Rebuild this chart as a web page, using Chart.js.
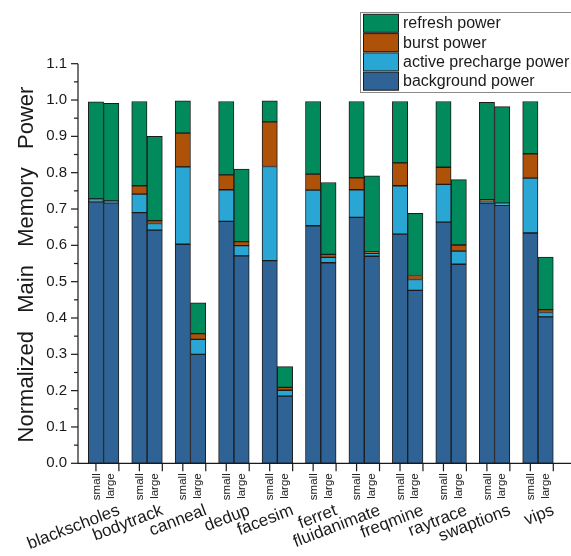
<!DOCTYPE html>
<html>
<head>
<meta charset="utf-8">
<script src="https://cdn.jsdelivr.net/npm/chart.js@4/dist/chart.umd.min.js"></script>
<style>
  html, body { margin: 0; padding: 0; background: #ffffff; }
  #wrap { width: 571px; height: 556px; }
</style>
</head>
<body>
<div id="wrap"><canvas id="chart" width="571" height="556"></canvas></div>
<script>
// Benchmarks (PARSEC) and the two input sizes run for each of them
const benchmarks = ['blackscholes', 'bodytrack', 'canneal', 'dedup', 'facesim', 'ferret',
                    'fluidanimate', 'freqmine', 'raytrace', 'swaptions', 'vips'];
const sizes = ['small', 'large'];

// Power components, normalized to the total of the small run
const backgroundSmall = [0.720, 0.690, 0.603, 0.666, 0.558, 0.654, 0.677, 0.631, 0.664, 0.716, 0.634];
const backgroundLarge = [0.717, 0.642, 0.300, 0.571, 0.185, 0.552, 0.570, 0.476, 0.548, 0.710, 0.403];
const activeSmall     = [0.005, 0.051, 0.213, 0.087, 0.259, 0.098, 0.076, 0.133, 0.104, 0.006, 0.151];
const activeLarge     = [0.003, 0.018, 0.041, 0.028, 0.016, 0.015, 0.008, 0.030, 0.036, 0.004, 0.012];
const burstSmall      = [0.003, 0.023, 0.093, 0.041, 0.123, 0.044, 0.033, 0.063, 0.047, 0.004, 0.067];
const burstLarge      = [0.002, 0.008, 0.016, 0.011, 0.008, 0.008, 0.004, 0.011, 0.017, 0.002, 0.008];
const refreshSmall    = [0.267, 0.232, 0.089, 0.202, 0.058, 0.200, 0.210, 0.169, 0.181, 0.268, 0.144];
const refreshLarge    = [0.269, 0.232, 0.085, 0.200, 0.057, 0.198, 0.209, 0.171, 0.180, 0.266, 0.145];

// Y axis tick values
const yTicks = [0.0, 0.1, 0.2, 0.3, 0.4, 0.5, 0.6, 0.7, 0.8, 0.9, 1.0, 1.1];
const yMinorTicks = [0.05, 0.15, 0.25, 0.35, 0.45, 0.55, 0.65, 0.75, 0.85, 0.95, 1.05];

const components = [
  { label: 'background power',       color: '#2f6395', small: backgroundSmall, large: backgroundLarge },
  { label: 'active precharge power', color: '#2aa6d4', small: activeSmall,     large: activeLarge },
  { label: 'burst power',            color: '#ad5208', small: burstSmall,      large: burstLarge },
  { label: 'refresh power',          color: '#018b5c', small: refreshSmall,    large: refreshLarge }
];

const FONT = '"Liberation Sans", Arial, Helvetica, sans-serif';
const INK = '#1a1a1a';

const datasets = [];
sizes.forEach(size => {
  components.forEach(c => {
    datasets.push({
      label: c.label,
      stack: size,
      data: c[size].map((v, i) => ({ x: i, y: v })),
      backgroundColor: c.color,
      borderColor: '#1b1b1b',
      borderWidth: 1,
      borderSkipped: false,
      barThickness: 15.3
    });
  });
});

// Axes, category labels, axis title and the boxed legend
const decorations = {
  id: 'decorations',
  afterDraw(chart) {
    const ctx = chart.ctx;
    const xs = chart.scales.x, ys = chart.scales.y;
    const area = chart.chartArea;
    const x0 = area.left, yBase = ys.getPixelForValue(0), yTop = ys.getPixelForValue(1.1);
    ctx.save();
    ctx.strokeStyle = INK;
    ctx.fillStyle = INK;
    ctx.lineWidth = 1.2;

    // y axis line, ticks and labels
    ctx.beginPath();
    ctx.moveTo(x0, yTop);
    ctx.lineTo(x0, yBase);
    ctx.stroke();
    ctx.font = '15px ' + FONT;
    ctx.textAlign = 'right';
    ctx.textBaseline = 'middle';
    yTicks.forEach(v => {
      const y = ys.getPixelForValue(v);
      ctx.beginPath();
      ctx.moveTo(x0 - 7, y);
      ctx.lineTo(x0, y);
      ctx.stroke();
      ctx.fillText(v.toFixed(1), x0 - 11, y);
    });
    yMinorTicks.forEach(v => {
      const y = ys.getPixelForValue(v);
      ctx.beginPath();
      ctx.moveTo(x0 - 4, y);
      ctx.lineTo(x0, y);
      ctx.stroke();
    });

    // x axis line
    ctx.beginPath();
    ctx.moveTo(x0, yBase);
    ctx.lineTo(chart.width, yBase);
    ctx.stroke();

    // size ticks and labels under each bar pair
    const smallMeta = chart.getDatasetMeta(0);
    const largeMeta = chart.getDatasetMeta(components.length);
    benchmarks.forEach((name, i) => {
      const sx = smallMeta.data[i].x;
      const lx = largeMeta.data[i].x;
      const half = smallMeta.data[i].width / 2;
      ctx.beginPath();
      ctx.moveTo(sx, yBase);
      ctx.lineTo(sx, yBase + 8);
      ctx.moveTo(lx + half, yBase);
      ctx.lineTo(lx + half, yBase + 8);
      ctx.stroke();

      ctx.font = '11.5px ' + FONT;
      ctx.textAlign = 'right';
      ctx.textBaseline = 'middle';
      [[sx + 0.5, sizes[0]], [lx, sizes[1]]].forEach(([px, txt]) => {
        ctx.save();
        ctx.translate(px, yBase + 10);
        ctx.rotate(-Math.PI / 2);
        ctx.fillText(txt, 0, 0);
        ctx.restore();
      });

      // benchmark name, slanted
      const cx = xs.getPixelForValue(i);
      ctx.save();
      ctx.translate(cx + 17, yBase + 51);
      ctx.rotate(-21 * Math.PI / 180);
      ctx.font = '17px ' + FONT;
      ctx.textAlign = 'right';
      ctx.textBaseline = 'alphabetic';
      ctx.fillText(name, 0, 0);
      ctx.restore();
    });

    // y axis title
    ctx.save();
    ctx.translate(33, (yTop + yBase) / 2 + 1);
    ctx.rotate(-Math.PI / 2);
    ctx.font = '22px ' + FONT;
    ctx.textAlign = 'center';
    ctx.textBaseline = 'alphabetic';
    ctx.fillText('Normalized   Main   Memory   Power', 0, 0);
    ctx.restore();

    // legend box (top entry = top of the stack)
    const lx0 = 360.5, ly0 = 12.5;
    ctx.strokeStyle = '#8a8a8a';
    ctx.lineWidth = 1;
    ctx.strokeRect(lx0, ly0, 220, 80);
    const entries = components.slice().reverse();
    ctx.font = '16px ' + FONT;
    ctx.textAlign = 'left';
    ctx.textBaseline = 'middle';
    entries.forEach((c, k) => {
      const y = 14.3 + k * 19.3;
      ctx.fillStyle = c.color;
      ctx.fillRect(363.5, y, 35, 18);
      ctx.strokeStyle = '#1b1b1b';
      ctx.strokeRect(363.5, y, 35, 18);
      ctx.fillStyle = INK;
      ctx.fillText(c.label, 403, y + 9.5);
    });
    ctx.restore();
  }
};

new Chart(document.getElementById('chart'), {
  type: 'bar',
  data: { datasets },
  options: {
    responsive: false,
    animation: false,
    devicePixelRatio: 1,
    layout: { padding: { left: 78, right: 0, top: 63.7, bottom: 92.7 } },
    plugins: { legend: { display: false }, tooltip: { enabled: false } },
    scales: {
      x: { type: 'linear', display: false, stacked: true, offset: false, min: -0.589, max: 10.76 },
      y: { display: false, stacked: true, min: 0, max: 1.1 }
    }
  },
  plugins: [decorations]
});
</script>
</body>
</html>
